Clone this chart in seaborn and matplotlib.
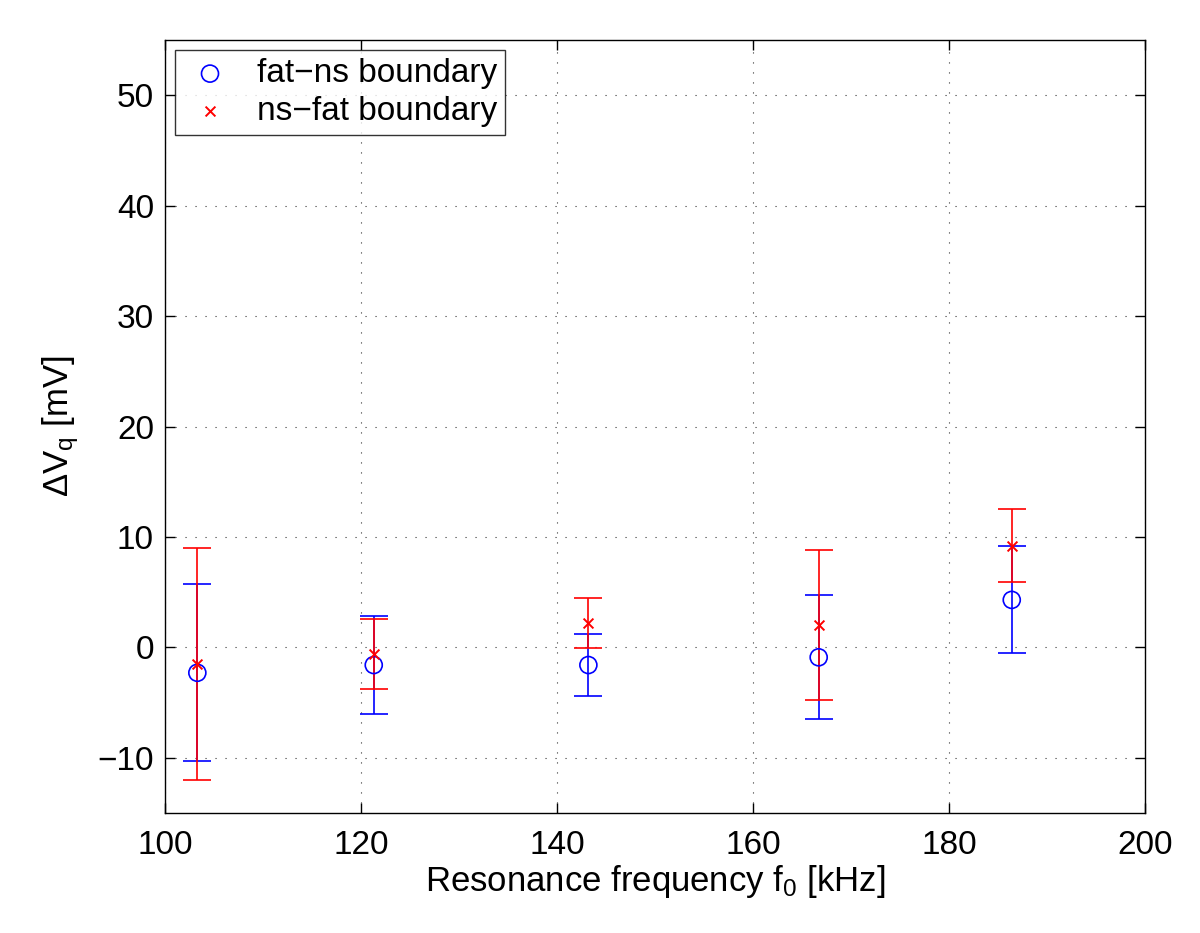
import matplotlib
matplotlib.use("Agg")
import matplotlib.pyplot as plt
import seaborn as sns
import pandas as pd

# resonance frequencies [kHz]
freq = [103.3, 121.3, 143.2, 166.7, 186.4]

# fat-ns boundary
fat_ns_mean = [-2.3, -1.6, -1.6, -0.9, 4.3]
fat_ns_err = [8.0, 4.45, 2.8, 5.6, 4.85]

# ns-fat boundary
ns_fat_mean = [-1.5, -0.6, 2.2, 2.0, 9.2]
ns_fat_err = [10.5, 3.15, 2.3, 6.8, 3.3]

sns.set_style("ticks")
plt.rcParams['font.family'] = ['Liberation Sans', 'DejaVu Sans']
plt.rcParams['mathtext.default'] = 'regular'
plt.rcParams['text.color'] = 'black'
plt.rcParams['axes.labelcolor'] = 'black'
plt.rcParams['xtick.color'] = 'black'
plt.rcParams['ytick.color'] = 'black'

df = pd.DataFrame({
    'freq': freq * 2,
    'dv': fat_ns_mean + ns_fat_mean,
    'err': fat_ns_err + ns_fat_err,
    'series': ['fat\u2212ns boundary'] * len(freq) + ['ns\u2212fat boundary'] * len(freq),
})

fig = plt.figure(figsize=(12, 9.33), dpi=100)
ax = fig.add_axes([0.1375, 0.1286, 0.8167, 0.8285])

colors = {'fat\u2212ns boundary': '#0000ff', 'ns\u2212fat boundary': '#ff0000'}

for name, sub in df.groupby('series', sort=False):
    ax.errorbar(sub['freq'], sub['dv'], yerr=sub['err'], fmt='none',
                ecolor=colors[name], elinewidth=1.2, capsize=10, capthick=1.2, zorder=2)

sub = df[df['series'] == 'fat\u2212ns boundary']
sns.scatterplot(x=sub['freq'], y=sub['dv'], ax=ax, marker='o', s=150,
                facecolors='none', edgecolor='#0000ff', linewidth=1.2,
                label='fat\u2212ns boundary', zorder=3)
sub = df[df['series'] == 'ns\u2212fat boundary']
sns.scatterplot(x=sub['freq'], y=sub['dv'], ax=ax, marker='x', s=50,
                color='#ff0000', linewidth=1.4,
                label='ns\u2212fat boundary', zorder=3)

ax.set_xlim(100, 200)
ax.set_ylim(-15, 55)
ax.set_xticks([100, 120, 140, 160, 180, 200])
ax.set_yticks([-10, 0, 10, 20, 30, 40, 50])
ax.grid(True, linestyle=(0, (1, 8)), color='black', linewidth=0.8, alpha=0.8)
ax.tick_params(direction='in', top=True, right=True, labelsize=24, length=7, width=1)
ax.tick_params(axis='x', pad=12)
ax.tick_params(axis='y', pad=8)
for sp in ax.spines.values():
    sp.set_linewidth(1.0)
    sp.set_color('black')

ax.set_xlabel('Resonance frequency f$_0$ [kHz]', fontsize=25, labelpad=2)
ax.set_ylabel('$\\Delta$V$_q$ [mV]', fontsize=25, labelpad=12)

leg = ax.legend(loc='upper left', fontsize=24, frameon=True, fancybox=False,
                edgecolor='black', borderpad=0.25, handletextpad=0.6,
                handlelength=1.6, labelspacing=0.2, borderaxespad=0.3)
leg.get_frame().set_linewidth(1.0)

fig.savefig('out.png', dpi=100)
